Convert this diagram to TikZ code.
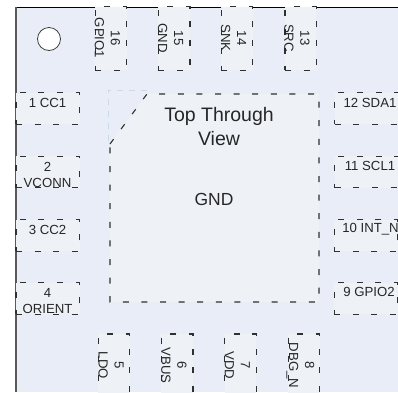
\documentclass[tikz,border=0pt]{standalone}
\usepackage{fontspec}
\setmainfont{Liberation Sans}
\definecolor{bodyfill}{HTML}{E9EDF8}
\definecolor{padfill}{HTML}{EEF2F7}
\definecolor{padline}{HTML}{303030}
\definecolor{marklight}{HTML}{C9D9E8}
\begin{document}
\begin{tikzpicture}[x=1pt,y=-1pt,
    paddash/.style={draw=padline,line width=1.1pt,dash pattern=on 6pt off 12.6pt},
    hpad/.style={paddash,fill=padfill,inner sep=0pt,minimum width=63.5pt,minimum height=31.5pt},
    vpad/.style={paddash,fill=padfill,inner sep=0pt,minimum width=31.5pt,minimum height=63.5pt},
    pintext/.style={inner sep=0pt,align=center,text=black!85,font=\fontsize{13.2}{16}\selectfont},
    vtext/.style={pintext,rotate=-90},
    bigtext/.style={inner sep=0pt,align=center,text=black!85,font=\fontsize{19.5}{24}\selectfont}]
  \useasboundingbox (0,0) rectangle (398,392);
  \fill[white] (0,0) rectangle (398,392);
  \fill[bodyfill] (16,7) rectangle (398,392);
  \draw[black,line width=1pt] (15.5,7) -- (398,7);
  \draw[black!65,line width=1.5pt] (15.8,7) -- (15.8,392);
  \node[draw=black!75,fill=white,circle,line width=0.8pt,minimum size=23pt,inner sep=0pt] (dot) at (49,39) {};
  % exposed pad
  \draw[marklight,line width=0.8pt,dash pattern=on 6pt off 6pt] (147,90) -- (108,90) -- (108,144);
  \draw[paddash,fill=padfill] (110,144) -- (147,94) -- (319,94) -- (319,302) -- (110,302) -- cycle;
  \node[bigtext] (view) at (219,127) {Top Through\\View};
  \node[bigtext,font=\fontsize{17.5}{24}\selectfont] (gnd) at (214,199) {GND};
  % top row
  \node[vpad] (p16) at (111,38.5) {};
  \node[vpad] (p15) at (174.2,38.5) {};
  \node[vpad] (p14) at (237,38.5) {};
  \node[vpad] (p13) at (300.7,38.5) {};
  \node[vtext] (t16) at (107.5,38) {16\\GPIO1};
  \node[vtext] (t15) at (170.5,38) {15\\GND};
  \node[vtext] (t14) at (233.5,38) {14\\SNK};
  \node[vtext] (t13) at (297,38) {13\\SRC};
  % left column
  \node[hpad] (p1) at (47.75,108.5) {};
  \node[hpad] (p2) at (47.75,172) {};
  \node[hpad] (p3) at (47.75,235.5) {};
  \node[hpad] (p4) at (47.75,298.5) {};
  \node[pintext] (t1) at (47.5,102.5) {1 CC1};
  \node[pintext] (t2) at (47.5,175) {2\\VCONN};
  \node[pintext] (t3) at (47.5,229.5) {3 CC2};
  \node[pintext] (t4) at (47.5,301) {4\\ORIENT};
  % right column
  \node[hpad] (p12) at (366.5,108.5) {};
  \node[hpad] (p11) at (366.5,172) {};
  \node[hpad] (p10) at (366,235.5) {};
  \node[hpad] (p9) at (366,298.5) {};
  \node[pintext] (t12) at (370,102.5) {12 SDA1};
  \node[pintext] (t11) at (370,166) {11 SCL1};
  \node[pintext] (t10) at (370.5,229.5) {10 INT\_N};
  \node[pintext] (t9) at (369,292) {9 GPIO2};
  % bottom row
  \node[vpad] (p5) at (114,365.75) {};
  \node[vpad] (p6) at (177.2,365.75) {};
  \node[vpad] (p7) at (240.5,365.75) {};
  \node[vpad] (p8) at (304,365.75) {};
  \node[vtext] (t5) at (111,365.5) {5\\LDO};
  \node[vtext] (t6) at (174,365.5) {6\\VBUS};
  \node[vtext] (t7) at (237.5,365.5) {7\\VDD};
  \node[vtext] (t8) at (300.5,365.5) {8\\DBG\_N};
\end{tikzpicture}
\end{document}
